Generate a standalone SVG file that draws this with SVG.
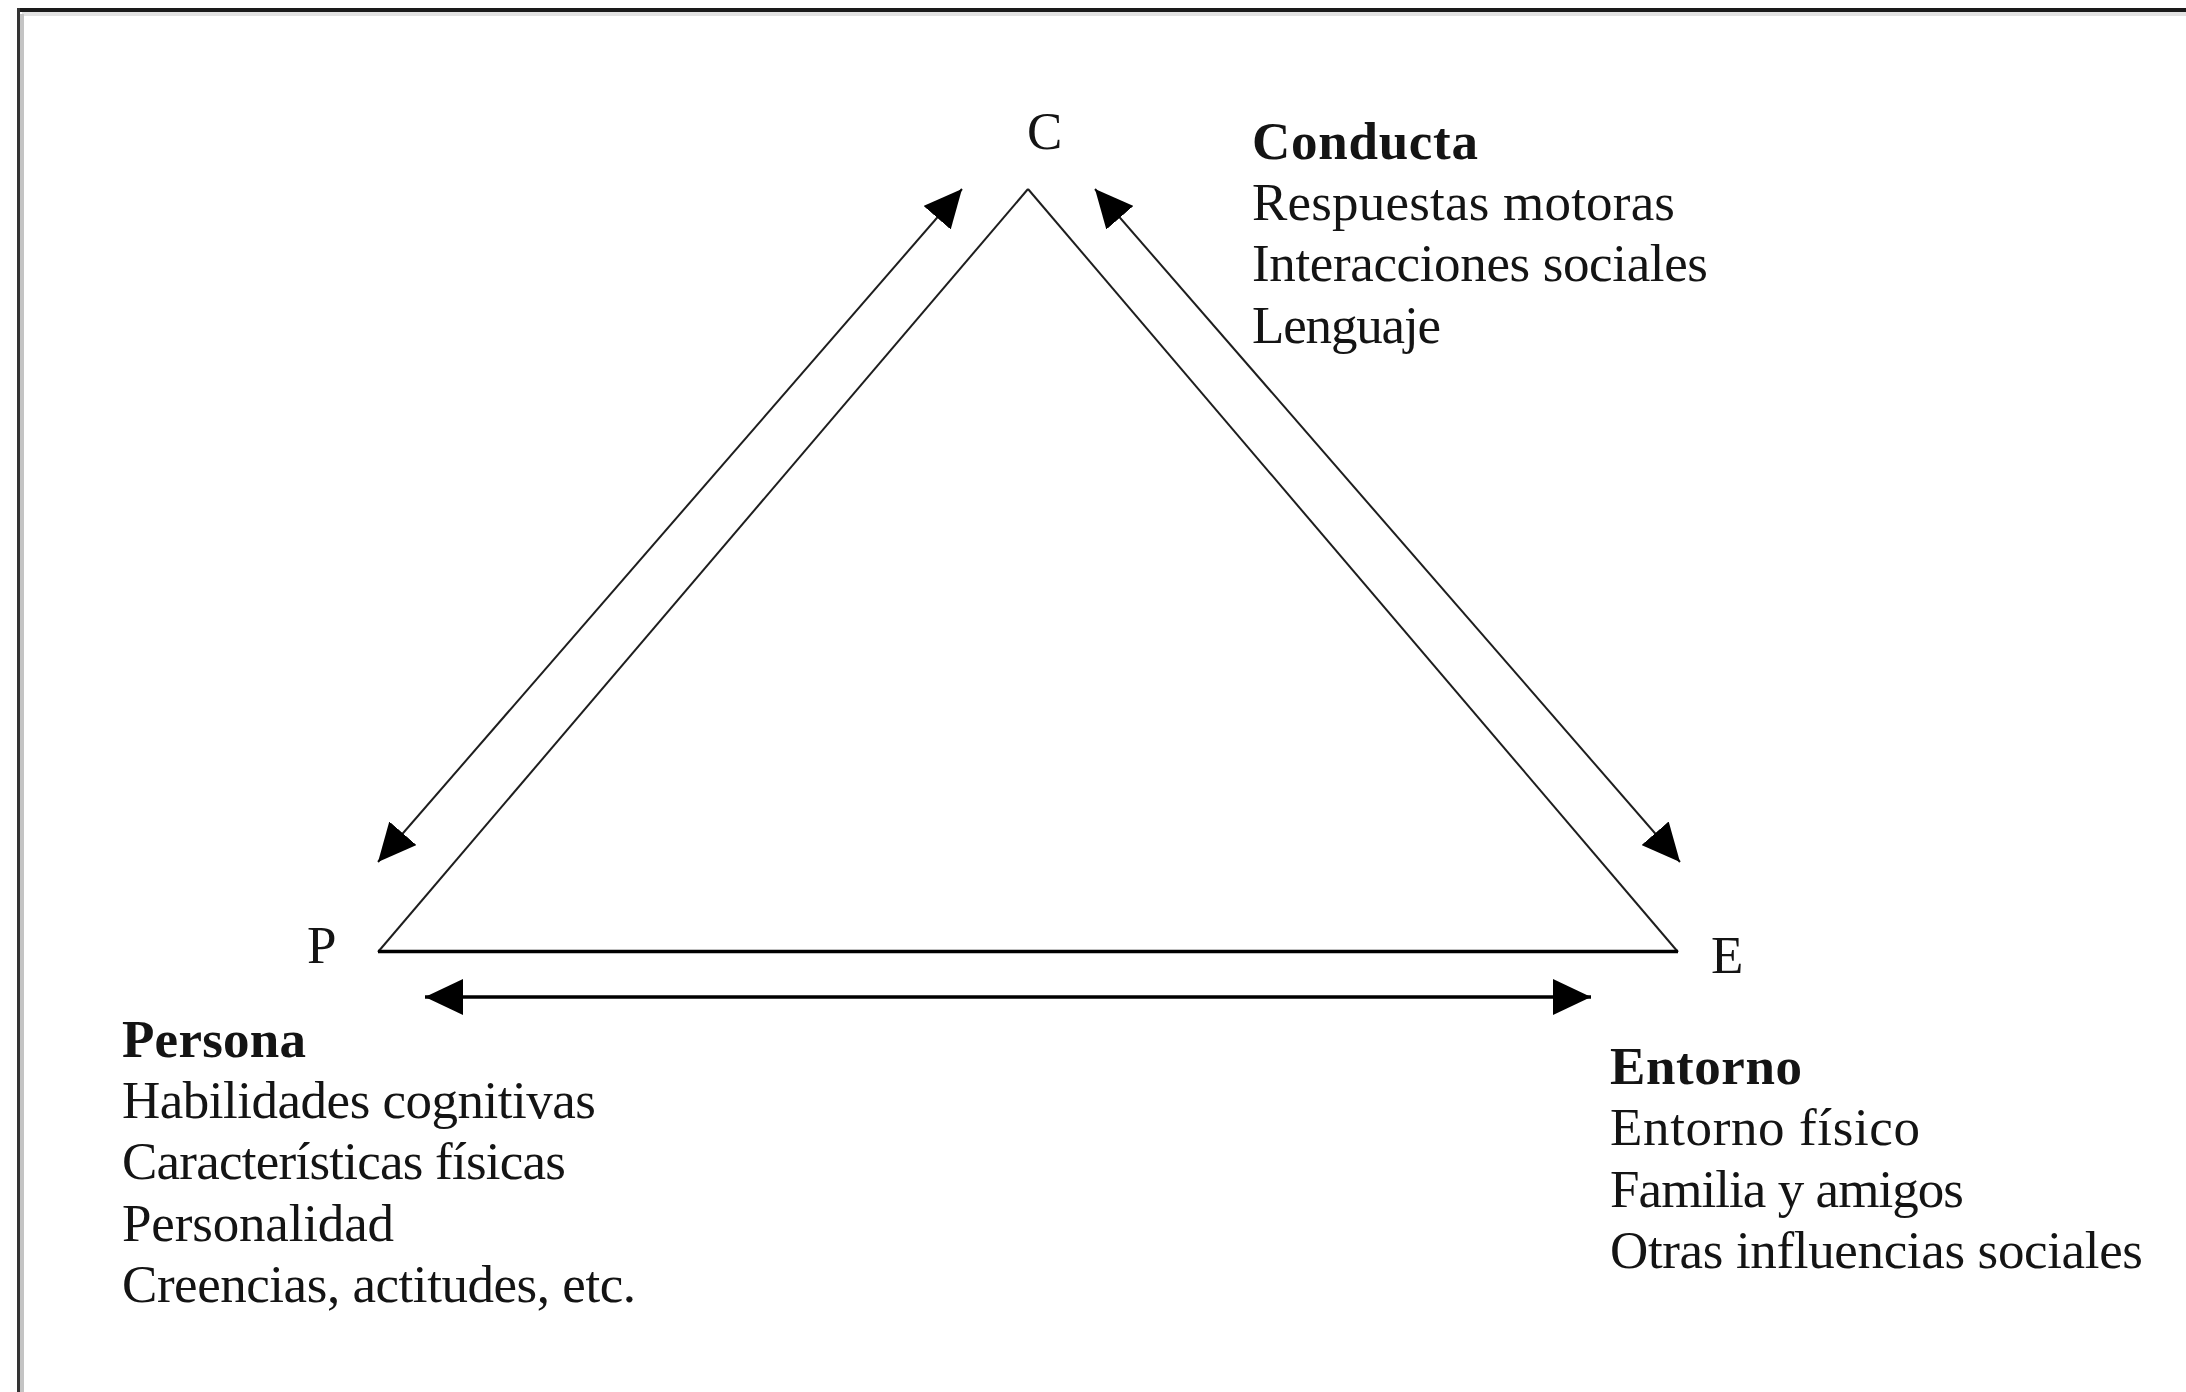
<svg xmlns="http://www.w3.org/2000/svg" width="2186" height="1392" viewBox="0 0 2186 1392">
<defs>
<style>
.t{font-family:"Liberation Serif","Times New Roman",serif;font-size:53px;fill:#141414}
.b{font-weight:bold}
.edge{stroke:#1e1e1e;stroke-width:2;fill:none}
.base{stroke:#000;stroke-width:3.5;fill:none}
</style>
<marker id="ah" viewBox="0 0 38 36" refX="38" refY="18" markerWidth="38" markerHeight="36" markerUnits="userSpaceOnUse" orient="auto-start-reverse">
<path d="M0,0 L38,18 L0,36 Z" fill="#000"/>
</marker>
</defs>
<rect width="2186" height="1392" fill="#fff"/>
<g id="frame">
<line x1="22" y1="14" x2="2186" y2="14" stroke="#e2e2e2" stroke-width="4"/>
<line x1="22" y1="14" x2="22" y2="1392" stroke="#c4c4c4" stroke-width="4"/>
<line x1="17" y1="10" x2="2186" y2="10" stroke="#1a1a1a" stroke-width="4"/>
<line x1="18.5" y1="8" x2="18.5" y2="1392" stroke="#333" stroke-width="3"/>
</g>
<g id="triangle">
<line class="edge" x1="378" y1="952" x2="1028" y2="189"/>
<line class="edge" x1="1028" y1="189" x2="1678" y2="952"/>
<line class="base" x1="378" y1="951.5" x2="1678" y2="951.5"/>
</g>
<g id="connectors">
<line class="edge" x1="962" y1="189" x2="378" y2="862" marker-start="url(#ah)" marker-end="url(#ah)"/>
<line class="edge" x1="1095" y1="189" x2="1680" y2="862" marker-start="url(#ah)" marker-end="url(#ah)"/>
<line class="base" x1="425" y1="997" x2="1591" y2="997" marker-start="url(#ah)" marker-end="url(#ah)"/>
</g>
<g id="node-C">
<text class="t" x="1027" y="149">C</text>
<text class="t b" x="1252" y="159" textLength="226" lengthAdjust="spacing">Conducta</text>
<text class="t" x="1252" y="220" textLength="423" lengthAdjust="spacing">Respuestas motoras</text>
<text class="t" x="1252" y="281" textLength="456" lengthAdjust="spacing">Interacciones sociales</text>
<text class="t" x="1252" y="343" textLength="189" lengthAdjust="spacing">Lenguaje</text>
</g>
<g id="node-P">
<text class="t" x="307" y="963">P</text>
<text class="t b" x="122" y="1057" textLength="184" lengthAdjust="spacing">Persona</text>
<text class="t" x="122" y="1118" textLength="474" lengthAdjust="spacing">Habilidades cognitivas</text>
<text class="t" x="122" y="1179" textLength="444" lengthAdjust="spacing">Características físicas</text>
<text class="t" x="122" y="1241" textLength="272" lengthAdjust="spacing">Personalidad</text>
<text class="t" x="122" y="1302" textLength="514" lengthAdjust="spacing">Creencias, actitudes, etc.</text>
</g>
<g id="node-E">
<text class="t" x="1711" y="973">E</text>
<text class="t b" x="1610" y="1084" textLength="192" lengthAdjust="spacing">Entorno</text>
<text class="t" x="1610" y="1145" textLength="310" lengthAdjust="spacing">Entorno físico</text>
<text class="t" x="1610" y="1207" textLength="354" lengthAdjust="spacing">Familia y amigos</text>
<text class="t" x="1610" y="1268" textLength="533" lengthAdjust="spacing">Otras influencias sociales</text>
</g>
</svg>
